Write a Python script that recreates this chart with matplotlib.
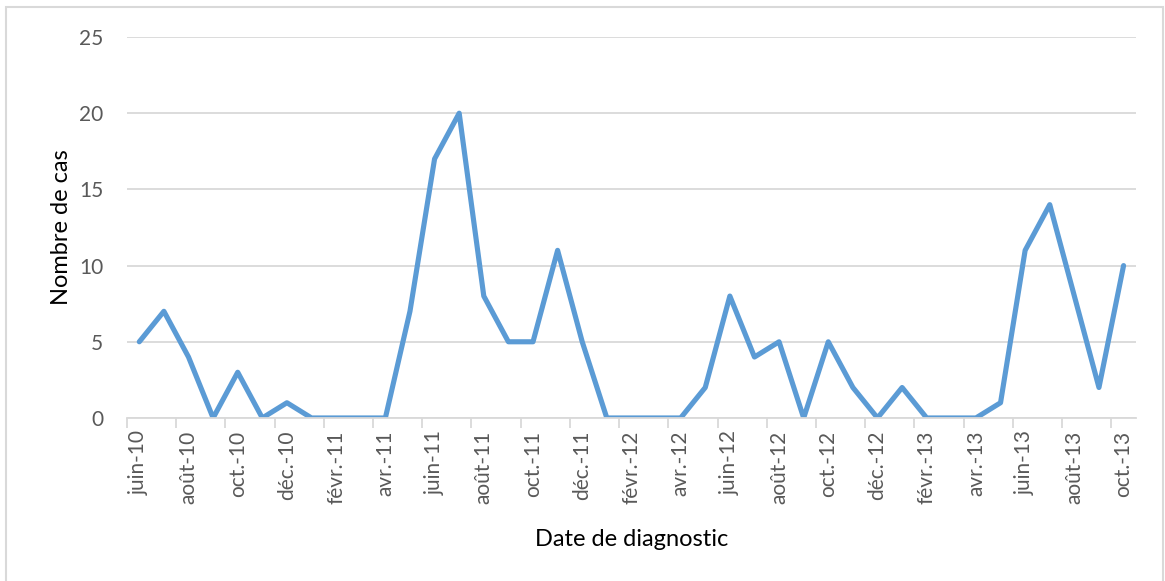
import numpy as np
import matplotlib.pyplot as plt
from matplotlib.patches import Rectangle

plt.rcParams['font.family'] = ['Lato', 'DejaVu Sans']

# monthly case counts, juin-10 .. oct.-13
months = ['juin-10', 'juil.-10', 'août-10', 'sept.-10', 'oct.-10', 'nov.-10', 'déc.-10',
          'janv.-11', 'févr.-11', 'mars-11', 'avr.-11', 'mai-11', 'juin-11', 'juil.-11',
          'août-11', 'sept.-11', 'oct.-11', 'nov.-11', 'déc.-11',
          'janv.-12', 'févr.-12', 'mars-12', 'avr.-12', 'mai-12', 'juin-12', 'juil.-12',
          'août-12', 'sept.-12', 'oct.-12', 'nov.-12', 'déc.-12',
          'janv.-13', 'févr.-13', 'mars-13', 'avr.-13', 'mai-13', 'juin-13', 'juil.-13',
          'août-13', 'sept.-13', 'oct.-13']
cases = [5, 7, 4, 0, 3, 0, 1,
         0, 0, 0, 0, 7, 17, 20,
         8, 5, 5, 11, 5,
         0, 0, 0, 0, 2, 8, 4,
         5, 0, 5, 2, 0,
         2, 0, 0, 0, 1, 11, 14,
         8, 2, 10]

grey = '#D9D9D9'
label_grey = '#595959'

fig = plt.figure(figsize=(11.65, 5.81), dpi=100)
ax = fig.add_axes([0.109, 0.2806, 0.866, 0.6557])

x = np.arange(len(cases))
ax.plot(x, cases, color='#5B9BD5', lw=3.7, solid_joinstyle='round',
        solid_capstyle='round')

ax.set_xlim(-0.5, len(cases) - 0.5)
ax.set_ylim(0, 25)
ax.set_yticks([0, 5, 10, 15, 20, 25])
ax.grid(axis='y', color=grey, lw=1.3)
ax.set_axisbelow(True)

for s in ['top', 'right', 'left']:
    ax.spines[s].set_visible(False)
ax.spines['bottom'].set_color(grey)
ax.spines['bottom'].set_linewidth(1.3)

# label every other month, ticks between categories
ax.set_xticks(x[::2])
ax.set_xticklabels(months[::2], rotation=90, fontsize=15, color=label_grey)
ax.tick_params(axis='x', length=0, pad=9)
ax.set_xticks(np.arange(-0.5, len(cases), 2), minor=True)
ax.tick_params(axis='x', which='minor', length=7, color=grey, width=1.3)
ax.tick_params(axis='y', length=0, pad=17, labelsize=15, labelcolor=label_grey)

ax.set_ylabel('Nombre de cas', fontsize=17, labelpad=5)
ax.set_xlabel('Date de diagnostic', fontsize=17, labelpad=18)

# chart frame, its bottom edge runs past the image
fig.patches.append(Rectangle((6 / 1165, -10 / 581), 1157 / 1165, 584 / 581,
                             transform=fig.transFigure, fill=False,
                             edgecolor=grey, lw=1.5))

fig.savefig('out.png', dpi=100)
